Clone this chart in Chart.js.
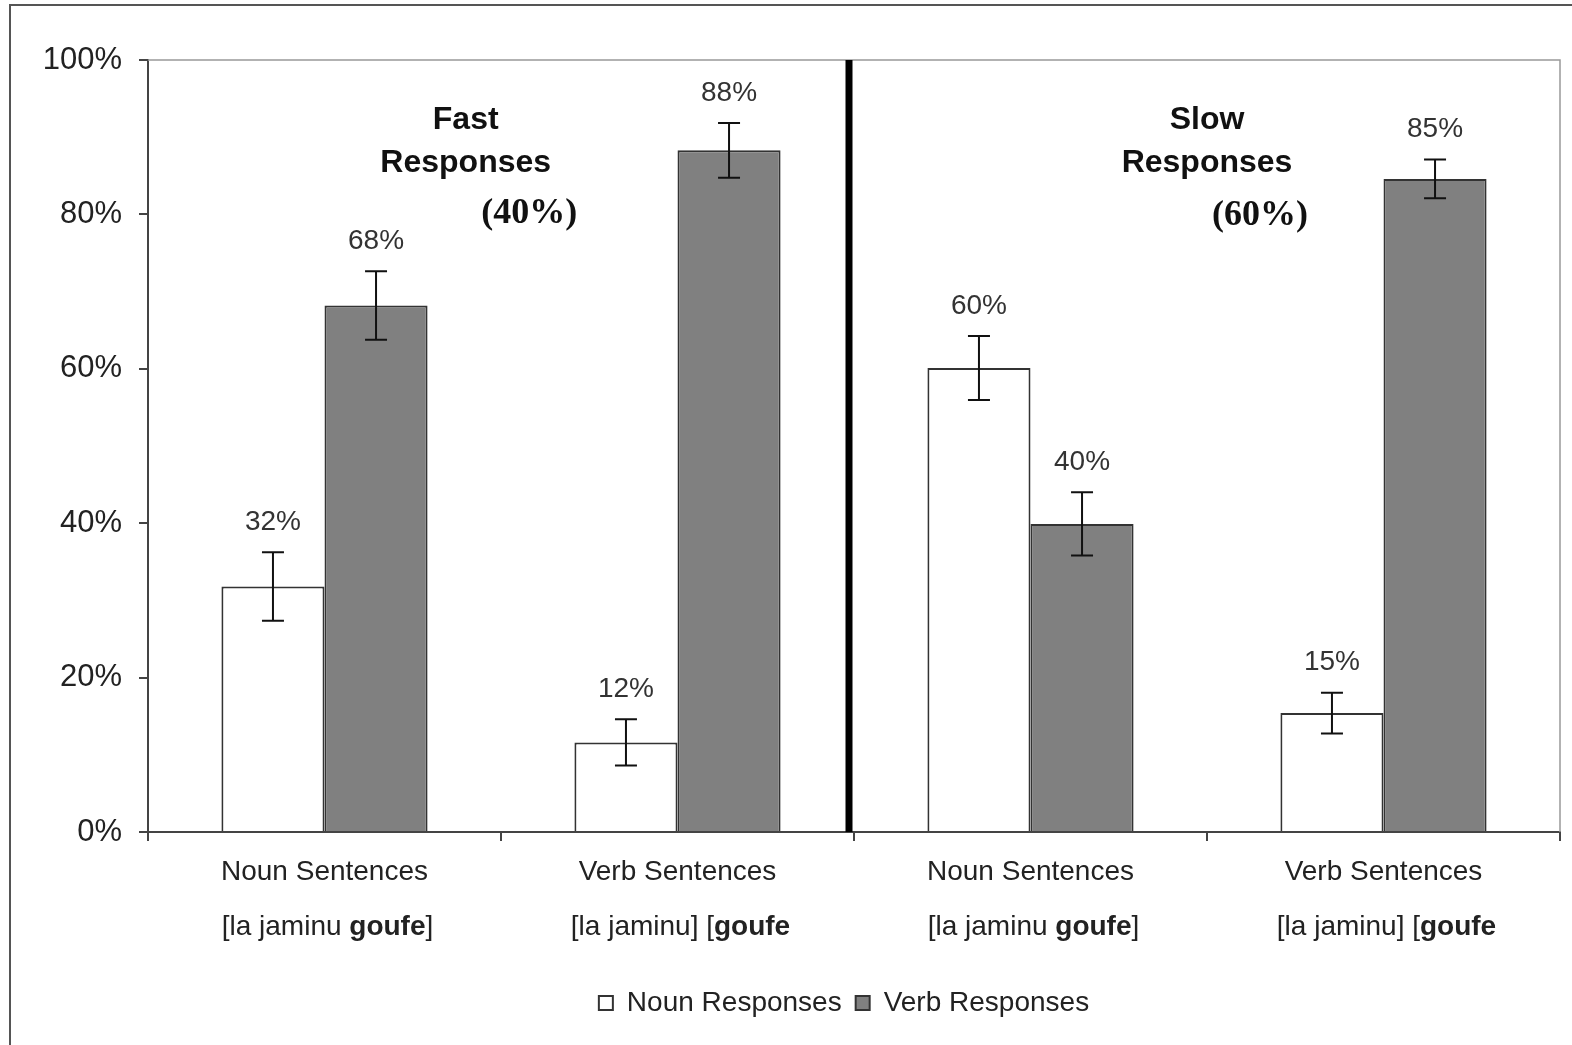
<!DOCTYPE html>
<html lang="en">
<head>
  <meta charset="UTF-8" />
  <title>Noun / Verb Responses</title>
  <script src="https://cdn.jsdelivr.net/npm/chart.js"></script>
  <style>
    body { margin: 0; background: #fff; }
    canvas { display: block; }
  </style>
</head>
<body>
  <canvas id="chart" width="1572" height="1045"></canvas>
<script>
  // category labels (first line, then the bracketed example split into plain / bold parts)
  const categoryTitles = ['Noun Sentences', 'Verb Sentences', 'Noun Sentences', 'Verb Sentences'];
  const examplePlain = ['[la jaminu ', '[la jaminu] [', '[la jaminu ', '[la jaminu] ['];
  const exampleBold = ['goufe', 'goufe', 'goufe', 'goufe'];
  const exampleTail = [']', '', ']', ''];

  // values in percent
  const nounValues = [31.8, 11.6, 60.1, 15.4];
  const verbValues = [68.2, 88.3, 39.9, 84.6];
  const nounErrors = [4.45, 3.0, 4.15, 2.65];
  const verbErrors = [4.45, 3.55, 4.1, 2.5];

  const yTicks = [0, 20, 40, 60, 80, 100];

  const SANS = '"Liberation Sans", Arial, sans-serif';
  const SERIF = '"Liberation Serif", "Times New Roman", serif';

  const errorSets = [nounErrors, verbErrors];

  const extras = {
    id: 'extras',
    afterLayout(chart) {
      // legend sits a bit right of centre in the original
      if (chart.legend) {
        chart.legend.left += 64;
        chart.legend.right += 64;
      }
    },
    beforeDraw(chart) {
      const ctx = chart.ctx;
      ctx.save();
      ctx.fillStyle = '#fff';
      ctx.fillRect(0, 0, chart.width, chart.height);
      // outer frame (only top and left edges show)
      ctx.strokeStyle = '#555';
      ctx.lineWidth = 2;
      ctx.strokeRect(10, 5, chart.width + 20, chart.height + 20);
      ctx.restore();
    },
    afterDatasetsDraw(chart) {
      const ctx = chart.ctx;
      const xs = chart.scales.x, ys = chart.scales.y;
      const area = chart.chartArea;
      ctx.save();

      // light border on top / right of plot area
      ctx.strokeStyle = '#999';
      ctx.lineWidth = 1.5;
      ctx.beginPath();
      ctx.moveTo(area.left, area.top);
      ctx.lineTo(area.right, area.top);
      ctx.lineTo(area.right, area.bottom);
      ctx.stroke();

      // error bars + value labels
      chart.data.datasets.forEach((ds, i) => {
        const meta = chart.getDatasetMeta(i);
        meta.data.forEach((bar, j) => {
          const v = ds.data[j], e = errorSets[i][j];
          const yTop = ys.getPixelForValue(v + e);
          const yBot = ys.getPixelForValue(v - e);
          const cap = 11;
          ctx.strokeStyle = '#111';
          ctx.lineWidth = 2;
          ctx.beginPath();
          ctx.moveTo(bar.x, yTop); ctx.lineTo(bar.x, yBot);
          ctx.moveTo(bar.x - cap, yTop); ctx.lineTo(bar.x + cap, yTop);
          ctx.moveTo(bar.x - cap, yBot); ctx.lineTo(bar.x + cap, yBot);
          ctx.stroke();

          ctx.fillStyle = '#333';
          ctx.font = '28px ' + SANS;
          ctx.textAlign = 'center';
          ctx.textBaseline = 'middle';
          ctx.fillText(Math.round(v) + '%', bar.x, yTop - 30);
        });
      });

      // thick separator between the two halves
      const sepX = (xs.getPixelForValue(1) + xs.getPixelForValue(2)) / 2 - 5;
      ctx.fillStyle = '#000';
      ctx.fillRect(sepX - 3.5, area.top, 7, area.bottom - area.top);

      // section headings
      const heading = (lines, cx, cy) => {
        ctx.fillStyle = '#111';
        ctx.textAlign = 'center';
        ctx.textBaseline = 'middle';
        ctx.font = 'bold 32px ' + SANS;
        ctx.fillText(lines[0], xs.getPixelForValue(cx), ys.getPixelForValue(cy));
        ctx.fillText(lines[1], xs.getPixelForValue(cx), ys.getPixelForValue(cy - 5.6));
      };
      heading(['Fast', 'Responses'], 0.4, 92.2);
      heading(['Slow', 'Responses'], 2.5, 92.2);
      ctx.font = 'bold 36px ' + SERIF;
      ctx.fillText('(40%)', xs.getPixelForValue(0.58), ys.getPixelForValue(80.1));
      ctx.fillText('(60%)', xs.getPixelForValue(2.65), ys.getPixelForValue(79.8));

      // two-line category labels with bold part
      categoryTitles.forEach((t, i) => {
        const cx = xs.getPixelForValue(i);
        ctx.fillStyle = '#222';
        ctx.textBaseline = 'middle';
        ctx.textAlign = 'center';
        ctx.font = '28px ' + SANS;
        ctx.fillText(t, cx, area.bottom + 40);

        const plainFont = '28px ' + SANS, boldFont = 'bold 28px ' + SANS;
        ctx.font = plainFont;
        const w1 = ctx.measureText(examplePlain[i]).width;
        const w3 = ctx.measureText(exampleTail[i]).width;
        ctx.font = boldFont;
        const w2 = ctx.measureText(exampleBold[i]).width;
        let x = cx - (w1 + w2 + w3) / 2 + 3;
        const y = area.bottom + 95;
        ctx.textAlign = 'left';
        ctx.font = plainFont;
        ctx.fillText(examplePlain[i], x, y);
        ctx.font = boldFont;
        ctx.fillText(exampleBold[i], x + w1, y);
        ctx.font = plainFont;
        ctx.fillText(exampleTail[i], x + w1 + w2, y);
      });

      ctx.restore();
    }
  };

  new Chart(document.getElementById('chart'), {
    type: 'bar',
    data: {
      labels: categoryTitles,
      datasets: [
        {
          label: 'Noun Responses',
          data: nounValues,
          backgroundColor: '#ffffff',
          borderColor: '#333',
          borderWidth: 2
        },
        {
          label: 'Verb Responses',
          data: verbValues,
          backgroundColor: '#808080',
          borderColor: '#333',
          borderWidth: 2
        }
      ]
    },
    options: {
      responsive: false,
      animation: false,
      devicePixelRatio: 1,
      layout: { padding: { top: 60, right: 12, left: 0, bottom: 18 } },
      datasets: { bar: { categoryPercentage: 0.584, barPercentage: 1 } },
      scales: {
        x: {
          grid: { drawOnChartArea: false, drawTicks: true, tickLength: 9, color: '#444', lineWidth: 2 },
          border: { color: '#444', width: 2 },
          ticks: { display: false },
          afterFit: s => { s.height = 143; }
        },
        y: {
          min: 0,
          max: 100,
          afterBuildTicks: s => { s.ticks = yTicks.map(v => ({ value: v })); },
          grid: { drawOnChartArea: false, drawTicks: true, tickLength: 9, color: '#444', lineWidth: 2 },
          border: { color: '#444', width: 2 },
          ticks: {
            padding: 17,
            color: '#222',
            font: { family: SANS, size: 31 },
            callback: v => v + '%'
          },
          afterFit: s => { s.width = 148; }
        }
      },
      plugins: {
        legend: {
          position: 'bottom',
          labels: {
            color: '#222',
            font: { family: SANS, size: 28 },
            boxWidth: 14,
            boxHeight: 14,
            padding: 14
          }
        },
        tooltip: { enabled: false }
      }
    },
    plugins: [extras]
  });
</script>
</body>
</html>
